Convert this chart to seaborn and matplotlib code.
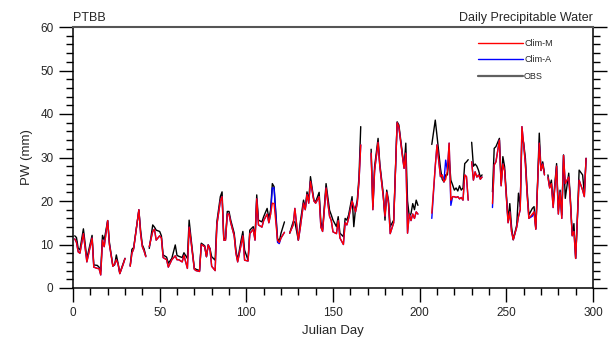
import numpy as np
import pandas as pd
import matplotlib
matplotlib.use("Agg")
import matplotlib.pyplot as plt
import seaborn as sns
from matplotlib.ticker import MultipleLocator
from matplotlib.lines import Line2D

nan = np.nan

# ---- data ----
days = [1, 2, 3, 4, 6, 8, 11, 12, 14, 15, 16, 17, 18, 20, 21, 23, 24, 25, 26, 27, 29, 30, 31,
        33, 34, 35, 38, 39, 40, 41, 42, 43,
        44, 46, 47, 48, 50, 51, 52, 54, 55, 57, 59, 60, 61, 63, 64, 66, 67, 68, 70, 71,
        73, 74, 76, 77, 78, 79, 80, 82, 83, 85, 86, 87, 88, 89, 90, 91, 93, 94, 95, 97,
        98, 99, 101, 102, 104, 105, 106, 107, 109, 110, 112, 113, 114, 115, 116, 118, 119, 120, 122, 123,
        125, 127, 128, 130, 131, 133, 134, 135, 136, 137, 139, 140, 142, 143, 144, 145, 146, 148, 149, 150,
        152, 153, 154, 156, 157, 158, 159, 161, 162, 163, 164, 165, 166, 167,
        172, 173, 174, 176, 177, 179, 180, 181, 182, 183, 185, 187, 188, 190, 191, 192, 193, 194, 195, 196,
        197, 198, 199, 200,
        207, 209, 210, 212, 213, 214, 215, 216, 217, 218, 219, 220, 221, 222, 223, 224, 225, 226, 227, 228, 229,
        230, 231, 232, 233, 234, 235, 236, 237,
        242, 243, 244, 246, 247, 248, 249, 251, 252, 253, 254, 256, 257, 258, 259, 260, 261, 262, 263, 265,
        266, 267, 268, 269, 270, 271, 272, 273,
        274, 275, 276, 277, 279, 280, 281, 282, 283, 284, 286, 287, 288, 289, 290, 291, 292, 294, 295, 296]

obs = [12.0, 11.6, 9.1, 8.8, 13.6, 6.8, 12.1, 5.3, 5.2, 4.8, 3.9, 12.1, 11.0, 15.5, 10.5, 5.1, 5.3, 7.6, 5.7, 3.4, 5.7, 6.8, nan,
       5.2, 8.9, 9.3, 17.9, 13.3, 9.9, 9.0, 7.4, nan,
       9.1, 14.5, 14.0, 13.3, 13.0, 12.0, 7.6, 7.1, 5.7, 6.8, 9.9, 7.5, 7.3, 7.0, 8.1, 6.8, 15.6, 11.8, 4.5, 4.3,
       4.0, 10.3, 9.7, 7.2, 9.9, 9.1, 7.2, 6.4, 15.2, 21.0, 22.1, 11.4, 11.4, 17.6, 17.6, 15.6, 12.6, 8.7, 6.4, 11.0,
       13.0, 8.7, 6.4, 13.3, 14.1, 11.4, 21.4, 15.6, 15.2, 16.4, 18.3, 16.0, 17.9, 24.0, 23.3, 11.4, 10.7, 12.6, 15.2, nan,
       12.6, 15.2, 15.2, 11.0, 14.8, 20.2, 18.3, 22.1, 20.2, 25.6, 20.2, 19.8, 22.0, 15.2, 13.5, 18.7, 24.0, 17.9, 16.8, 15.6,
       14.1, 16.4, 12.6, 11.8, 16.0, 15.6, 16.8, 21.0, 14.1, 18.3, 20.2, 25.6, 37.1, nan,
       31.9, 18.7, 27.9, 34.4, 28.6, 21.7, 15.6, 22.5, 20.2, 14.1, 15.6, 38.2, 37.5, 31.0, 27.9, 33.3, 20.0, 16.5, 17.1, 19.4,
       18.0, 20.2, 19.0, nan,
       33.0, 38.6, 35.0, 27.5, 25.0, 24.4, 26.0, 26.0, 30.0, 24.8, 23.7, 22.5, 23.0, 22.3, 23.5, 22.5, 23.0, 28.6, 29.0, 29.5, nan,
       33.5, 28.0, 28.5, 28.0, 27.0, 25.5, 26.0, nan,
       22.1, 32.1, 32.5, 34.4, 24.0, 30.2, 27.9, 15.6, 19.4, 14.1, 11.1, 14.5, 21.8, 18.7, 35.0, 33.3, 29.8, 22.5, 16.8, 18.3,
       18.7, 13.7, 24.0, 35.6, 27.1, 29.0, 26.4, nan,
       26.0, 23.3, 24.8, 19.4, 28.6, 17.9, 22.5, 16.8, 30.6, 20.6, 26.4, 20.2, 12.2, 14.8, 6.8, 16.4, 27.1, 26.0, 21.8, 29.8]

clim_m = [11.3, 10.5, 8.3, 8.0, 12.5, 6.0, 11.5, 4.8, 4.5, 4.5, 3.0, 11.0, 9.5, 15.5, 10.0, 5.0, 5.5, 6.5, 5.5, 3.3, 5.5, 6.8, nan,
          5.0, 8.0, 9.0, 18.0, 12.5, 9.5, 8.5, 7.2, nan,
          9.5, 13.0, 13.5, 11.0, 12.0, 11.5, 7.0, 6.5, 4.8, 6.5, 7.4, 6.5, 6.5, 6.0, 7.5, 4.5, 14.0, 11.0, 4.3, 4.0,
          3.8, 10.0, 9.5, 7.2, 9.9, 9.0, 5.0, 4.0, 14.5, 20.0, 21.0, 11.0, 11.0, 17.0, 17.0, 15.0, 12.0, 8.0, 6.0, 10.0,
          12.0, 6.4, 6.2, 12.5, 13.5, 11.0, 20.5, 14.5, 14.0, 15.5, 17.0, 15.0, 17.0, 19.5, 19.4, 11.0, 10.5, 11.5, 12.8, nan,
          12.6, 14.5, 18.3, 11.0, 13.5, 19.5, 18.0, 21.5, 19.5, 24.5, 20.0, 19.5, 21.0, 14.0, 13.0, 18.0, 23.0, 16.5, 15.5, 12.9,
          12.5, 15.5, 11.5, 10.0, 15.0, 14.5, 16.0, 20.0, 18.7, 17.5, 19.5, 24.5, 32.9, nan,
          31.0, 18.0, 27.0, 33.5, 28.0, 21.0, 16.5, 22.0, 19.5, 12.5, 15.0, 38.0, 37.0, 30.5, 27.5, 31.0, 12.6, 17.0, 15.5, 17.0,
          16.0, 17.5, 17.0, nan,
          17.2, 28.0, 32.9, 25.6, 26.0, 24.4, 25.0, 27.0, 33.3, 20.2, 21.0, 21.0, 20.8, 21.0, 20.5, 20.8, 20.2, 26.0, 25.6, 20.2, nan,
          29.0, 24.8, 26.7, 25.5, 26.0, 25.0, 25.5, nan,
          19.4, 28.3, 29.0, 34.0, 23.5, 28.5, 27.0, 15.0, 17.5, 13.0, 11.1, 14.0, 16.4, 18.0, 37.1, 33.0, 28.5, 21.5, 16.0, 17.0,
          17.5, 13.5, 23.5, 33.3, 27.0, 28.5, 26.0, nan,
          25.5, 23.0, 24.0, 18.5, 28.0, 17.0, 22.0, 16.0, 30.5, 24.0, 25.5, 19.5, 12.0, 13.0, 6.8, 16.0, 24.8, 22.5, 21.0, 29.8]

clim_a = [11.3, 10.5, 8.3, 8.0, 12.5, 6.0, 11.5, 4.8, 4.5, 4.5, 3.0, 11.0, 9.5, 15.5, 10.0, 5.0, 5.5, 6.5, 5.5, 3.3, 5.5, 6.8, nan,
          5.0, 8.0, 9.0, 18.0, 12.5, 9.5, 8.5, 7.2, nan,
          9.5, 13.0, 13.5, 11.0, 12.0, 11.5, 7.0, 6.5, 4.8, 6.5, 7.4, 6.5, 6.5, 6.0, 7.5, 4.5, 14.0, 11.0, 4.3, 4.0,
          3.8, 10.0, 9.5, 7.2, 9.9, 9.0, 5.0, 4.0, 14.5, 20.0, 21.0, 11.0, 11.0, 17.0, 17.0, 15.0, 12.0, 8.0, 6.0, 10.0,
          12.0, 6.4, 6.2, 12.5, 13.5, 11.0, 20.5, 14.5, 14.0, 15.5, 17.0, 15.0, 17.0, 23.0, 23.0, 10.5, 10.2, 11.5, 12.8, nan,
          12.6, 14.5, 18.3, 11.0, 13.5, 19.5, 18.0, 21.5, 19.5, 24.5, 20.0, 19.5, 21.0, 14.0, 13.0, 18.0, 23.0, 16.5, 15.5, 12.9,
          12.5, 15.5, 11.5, 10.0, 15.0, 14.5, 16.0, 20.0, 18.7, 17.5, 19.5, 24.5, 32.9, nan,
          31.0, 18.0, 27.0, 33.5, 28.0, 21.0, 16.5, 22.0, 19.5, 12.5, 15.0, 38.0, 37.0, 30.5, 27.5, 31.0, 12.6, 17.0, 15.5, 17.0,
          16.0, 17.5, 17.0, nan,
          16.0, 28.0, 32.9, 25.6, 26.0, 24.4, 29.4, 27.0, 33.3, 19.0, 21.0, 21.0, 20.8, 21.0, 20.5, 20.8, 20.2, 26.0, 25.6, 20.2, nan,
          29.0, 24.8, 26.7, 25.5, 26.0, 25.0, 25.5, nan,
          18.5, 28.3, 29.0, 34.0, 23.5, 28.5, 27.0, 15.0, 17.5, 13.0, 11.1, 14.0, 16.4, 18.0, 37.1, 33.0, 28.5, 21.5, 16.0, 16.5,
          17.5, 13.5, 23.5, 33.3, 27.0, 28.5, 26.0, nan,
          25.5, 23.0, 24.0, 18.5, 28.0, 17.0, 22.0, 16.0, 30.5, 24.0, 25.5, 19.5, 12.0, 13.0, 6.8, 16.0, 24.8, 22.5, 21.0, 29.8]

series_names = ["Clim-M", "Clim-A", "OBS"]
series_colors = ["red", "blue", "black"]

assert len(days) == len(obs) == len(clim_m) == len(clim_a), (len(days), len(obs), len(clim_m), len(clim_a))

# ---- build long table; NaN rows split lines into segments ----
def frame(name, vals):
    v = np.array(vals, dtype=float)
    seg = np.cumsum(np.isnan(v))
    df = pd.DataFrame({"day": days, "pw": v, "series": name, "seg": seg})
    df = df.dropna()
    df["unit"] = name + "_" + df["seg"].astype(str)
    return df

data = pd.concat([frame("OBS", obs), frame("Clim-A", clim_a), frame("Clim-M", clim_m)],
                 ignore_index=True)

sns.set_style("ticks")
plt.rcParams["font.family"] = ["Liberation Sans", "DejaVu Sans"]

fig = plt.figure(figsize=(6.08, 3.45), dpi=100)
ax = fig.add_axes([73 / 608, 1 - 288 / 345, 520 / 608, 261 / 345])

palette = dict(zip(series_names, series_colors))
sns.lineplot(data=data, x="day", y="pw", hue="series", units="unit", estimator=None,
             hue_order=["OBS", "Clim-A", "Clim-M"], palette=palette, sort=False,
             linewidth=1.0, legend=False, ax=ax)

ax.set_xlim(0, 300)
ax.set_ylim(0, 60)
ax.xaxis.set_major_locator(MultipleLocator(50))
ax.xaxis.set_minor_locator(MultipleLocator(10))
ax.yaxis.set_major_locator(MultipleLocator(10))
ax.yaxis.set_minor_locator(MultipleLocator(2))
ax.tick_params(which="both", direction="out", top=False, right=True, left=True, bottom=True,
               labelright=False, color="black", width=1.0)
ax.tick_params(which="major", length=10, labelsize=8.5, pad=4)
ax.tick_params(which="minor", length=5)
for s in ax.spines.values():
    s.set_linewidth(1.1)
    s.set_color("black")
ax.spines["top"].set_color("#555555")
ax.spines["top"].set_linewidth(1.5)

ax.set_xlabel("Julian Day", fontsize=9.5, labelpad=4)
ax.set_ylabel("PW (mm)", fontsize=9.5, labelpad=5)
ax.set_title("PTBB", loc="left", fontsize=9, pad=4)
ax.set_title("Daily Precipitable Water", loc="right", fontsize=9, pad=4)

handles = [Line2D([], [], color="red", lw=1.0),
           Line2D([], [], color="blue", lw=1.0),
           Line2D([], [], color="#606060", lw=1.6)]
ax.legend(handles, series_names, loc="upper left", bbox_to_anchor=(0.779, 0.955),
          frameon=False, fontsize=6.5, handlelength=5.0, handletextpad=0.1,
          labelspacing=0.85, borderpad=0, borderaxespad=0)

fig.savefig("out.png", dpi=100)
